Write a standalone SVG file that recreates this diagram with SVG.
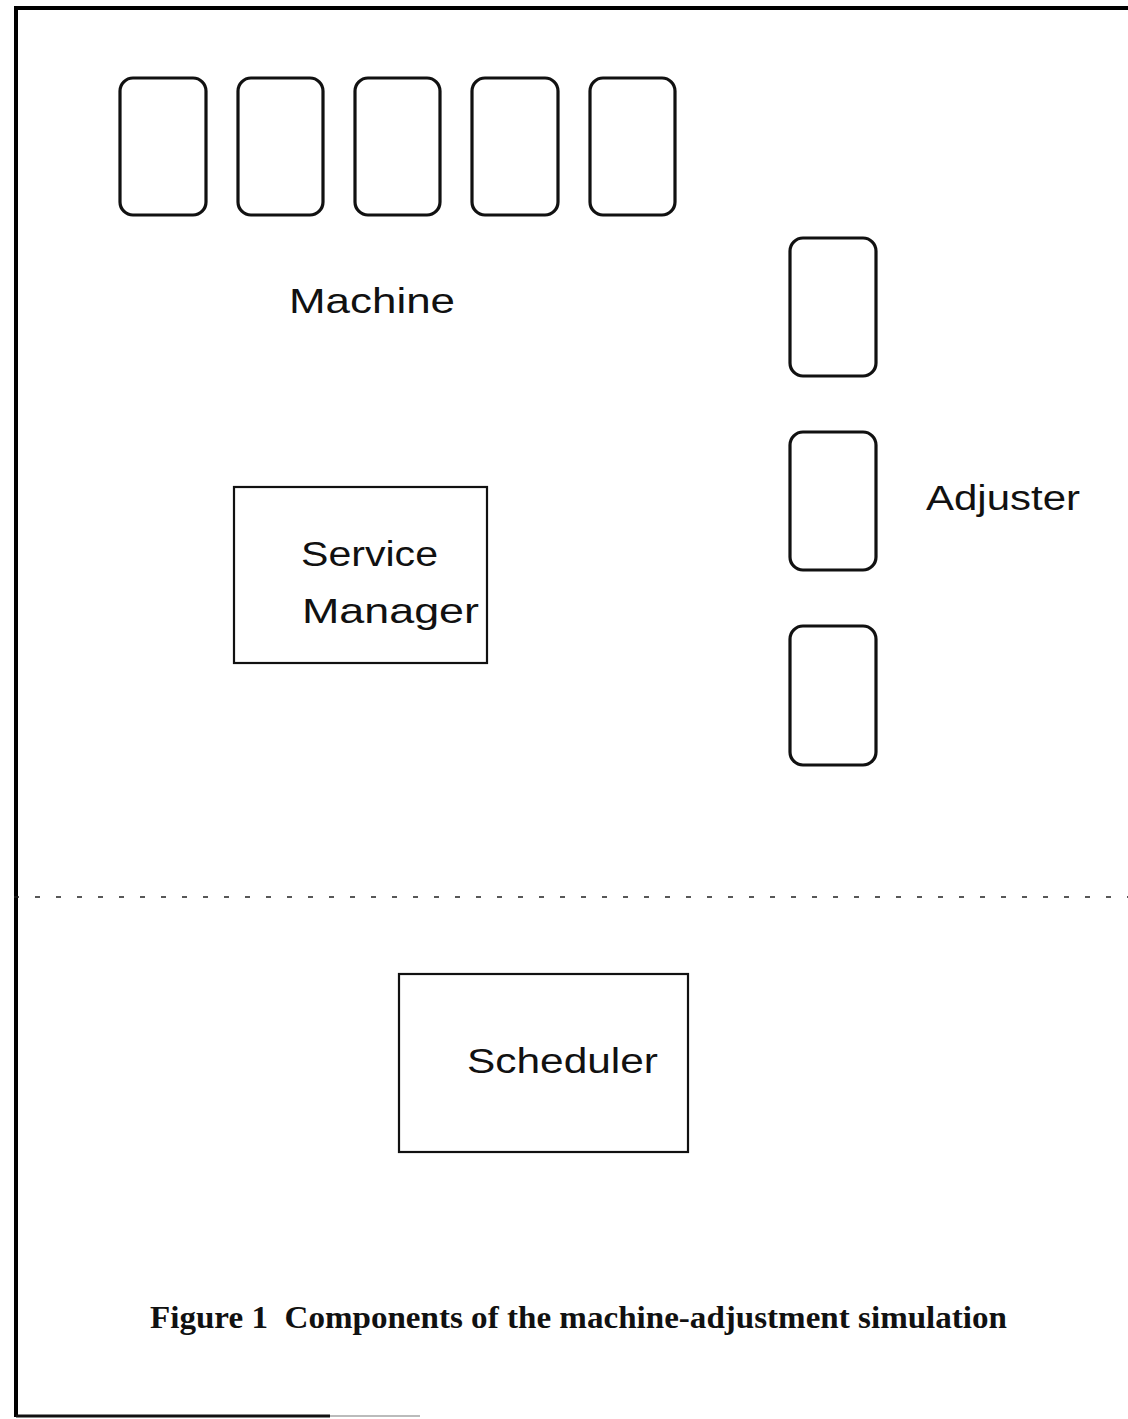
<svg xmlns="http://www.w3.org/2000/svg" width="1128" height="1419" viewBox="0 0 1128 1419">
  <style>
    .frame { fill: none; stroke: #000; stroke-width: 4; }
    .frame-base { fill: none; stroke: #111; stroke-width: 3; }
    .frame-fade { fill: none; stroke: #bbb; stroke-width: 2; }
    .unit { fill: #fff; stroke: #111; stroke-width: 3.2; }
    .box { fill: #fff; stroke: #111; stroke-width: 2.2; }
    .label { font-family: "Liberation Sans", "DejaVu Sans", sans-serif; font-size: 35px; fill: #111; }
    .caption { font-family: "Liberation Serif", "Times New Roman", serif; font-size: 32px; font-weight: bold; fill: #111; }
    .divider { stroke: #222; stroke-width: 1.6; stroke-dasharray: 5 16; }
  </style>
  <rect width="1128" height="1419" fill="#fff"/>

  <!-- outer frame: open on the right, base line fading out -->
  <path class="frame" d="M1128 8 H16 V1417"/>
  <path class="frame-base" d="M16 1416 H330"/>
  <path class="frame-fade" d="M330 1416 H420"/>

  <!-- dotted separation between the model and the scheduler -->
  <line class="divider" x1="14" y1="897" x2="1128" y2="897"/>

  <g id="machines">
    <rect class="unit" x="120" y="78" width="86" height="137" rx="13"/>
    <rect class="unit" x="238" y="78" width="85" height="137" rx="13"/>
    <rect class="unit" x="355" y="78" width="85" height="137" rx="13"/>
    <rect class="unit" x="472" y="78" width="86" height="137" rx="13"/>
    <rect class="unit" x="590" y="78" width="85" height="137" rx="13"/>
    <text class="label" x="289" y="313" textLength="166" lengthAdjust="spacingAndGlyphs">Machine</text>
  </g>

  <g id="adjusters">
    <rect class="unit" x="790" y="238" width="86" height="138" rx="13"/>
    <rect class="unit" x="790" y="432" width="86" height="138" rx="13"/>
    <rect class="unit" x="790" y="626" width="86" height="139" rx="13"/>
    <text class="label" x="926" y="510" textLength="154" lengthAdjust="spacingAndGlyphs">Adjuster</text>
  </g>

  <g id="service-manager">
    <rect class="box" x="234" y="487" width="253" height="176"/>
    <text class="label" x="301" y="566" textLength="137" lengthAdjust="spacingAndGlyphs">Service</text>
    <text class="label" x="302" y="623" textLength="177" lengthAdjust="spacingAndGlyphs">Manager</text>
  </g>

  <g id="scheduler">
    <rect class="box" x="399" y="974" width="289" height="178"/>
    <text class="label" x="467" y="1073" textLength="191" lengthAdjust="spacingAndGlyphs">Scheduler</text>
  </g>

  <g id="connectors"></g>

  <text class="caption" x="150" y="1328" textLength="857" lengthAdjust="spacingAndGlyphs">Figure 1&#160; Components of the machine-adjustment simulation</text>
</svg>
